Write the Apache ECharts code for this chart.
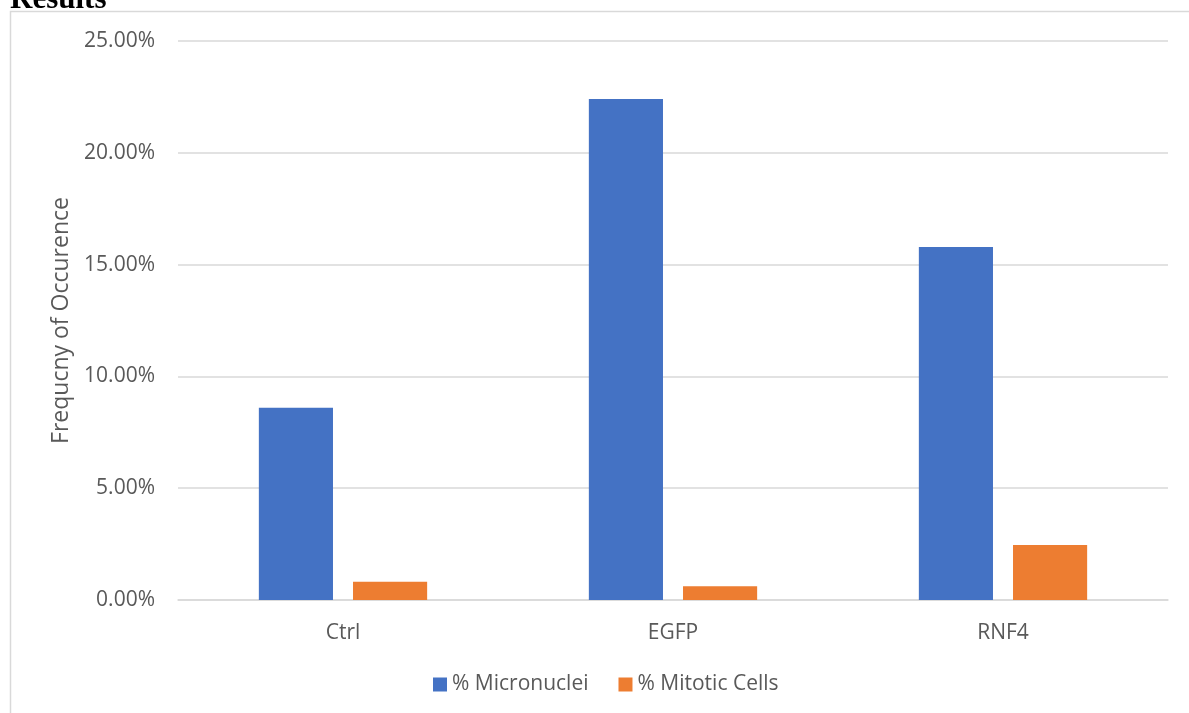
<!DOCTYPE html>
<html>
<head>
<meta charset="utf-8">
<script src="https://cdn.jsdelivr.net/npm/echarts@6/dist/echarts.min.js"></script>
<style>
html,body{margin:0;padding:0;background:#fff;}
#chart{width:1189px;height:713px;}
</style>
</head>
<body>
<div id="chart"></div>
<script>
const categories = ['Ctrl', 'EGFP', 'RNF4'];
const micronuclei = [8.60, 22.41, 15.79];
const mitoticCells = [0.82, 0.61, 2.46];
const seriesNames = ['% Micronuclei', '% Mitotic Cells'];
const yTicks = [0, 5, 10, 15, 20, 25];

const FONT = '"Open Sans", sans-serif';
const chart = echarts.init(document.getElementById('chart'));
chart.setOption({
  animation: false,
  backgroundColor: '#ffffff',
  graphic: [
    {
      type: 'polyline',
      shape: { points: [[10.5, 713], [10.5, 11.5], [1189, 11.5]] },
      style: { stroke: '#d9d9d9', lineWidth: 1.5, fill: null },
      silent: true
    },
    {
      type: 'text',
      left: 10,
      top: -16,
      style: { text: 'Results', font: 'bold 31px "Liberation Serif", serif', fill: '#000' },
      silent: true
    }
  ],
  grid: { left: 178, right: 21, top: 41, bottom: 113, containLabel: false },
  legend: {
    data: seriesNames,
    bottom: 13,
    left: 428,
    itemWidth: 14,
    itemHeight: 14,
    itemGap: 30,
    icon: 'rect',
    textStyle: { fontFamily: FONT, fontSize: 21, color: '#595959', padding: [0, 0, 0, 0] }
  },
  xAxis: {
    type: 'category',
    data: categories,
    axisLine: { show: true, lineStyle: { color: '#d9d9d9', width: 1.5 } },
    axisTick: { show: false },
    axisLabel: { fontFamily: FONT, fontSize: 21, color: '#595959', margin: 23 }
  },
  yAxis: {
    type: 'value',
    min: yTicks[0],
    max: yTicks[yTicks.length - 1],
    interval: 5,
    name: 'Frequcny of Occurence',
    nameLocation: 'middle',
    nameGap: 104,
    nameTextStyle: { fontFamily: FONT, fontSize: 23, color: '#595959' },
    axisLine: { show: false },
    axisTick: { show: false },
    axisLabel: {
      fontFamily: FONT, fontSize: 21, color: '#595959', margin: 23,
      formatter: v => v.toFixed(2) + '%'
    },
    splitLine: { lineStyle: { color: '#d9d9d9', width: 1.5 } }
  },
  series: [
    {
      name: seriesNames[0], type: 'bar', data: micronuclei,
      itemStyle: { color: '#4472C4' },
      barGap: '27%', barCategoryGap: '49%'
    },
    {
      name: seriesNames[1], type: 'bar', data: mitoticCells,
      itemStyle: { color: '#ED7D31' },
      barGap: '27%', barCategoryGap: '49%'
    }
  ]
});
</script>
</body>
</html>
